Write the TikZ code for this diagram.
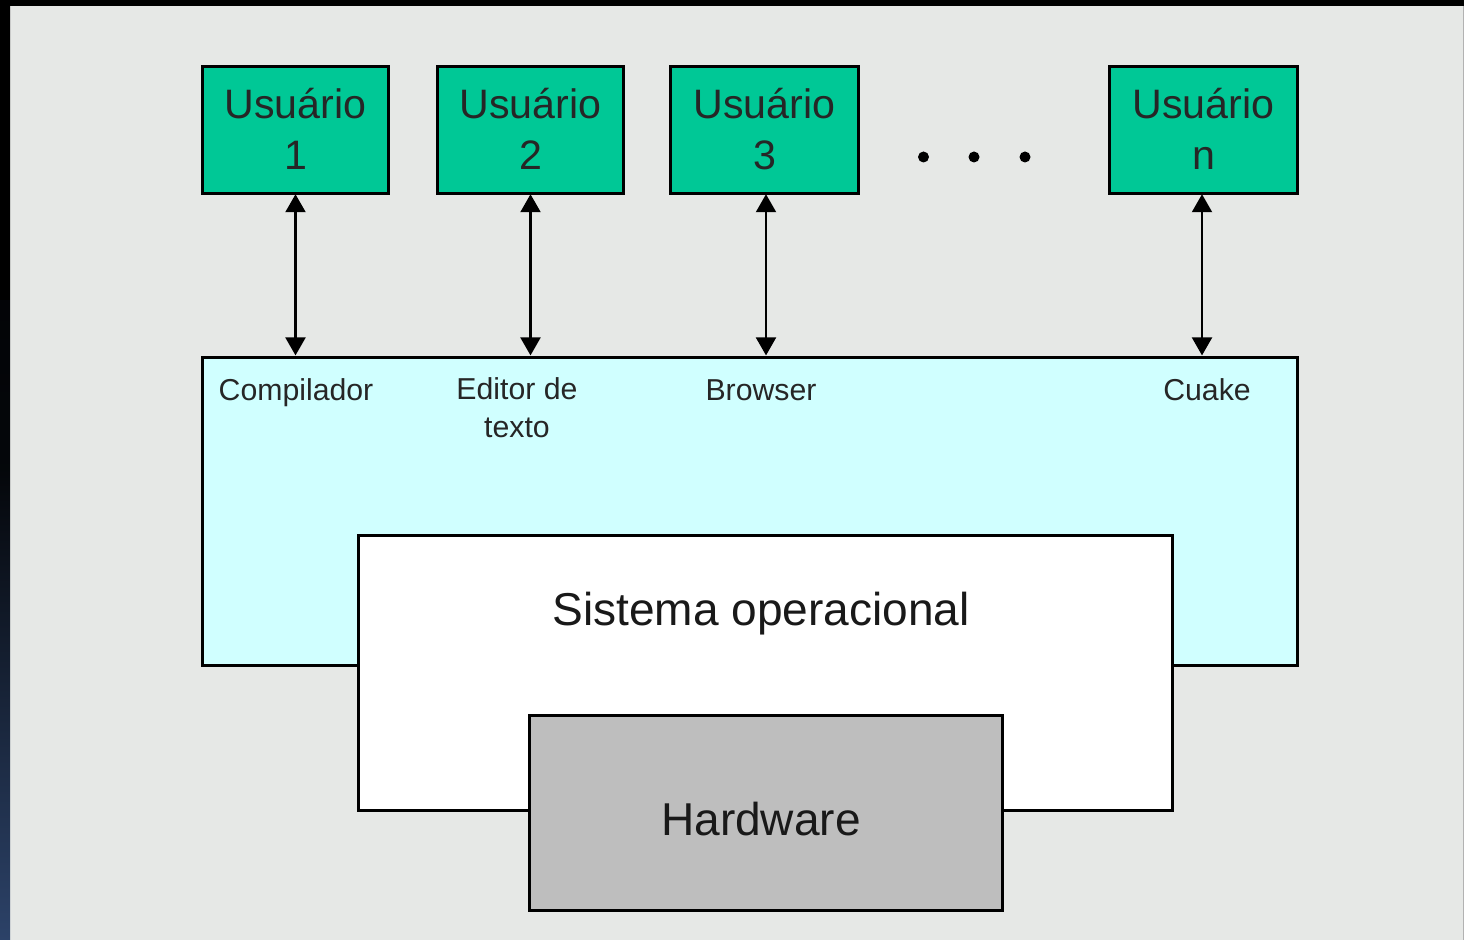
\documentclass[tikz,border=0pt]{standalone}
\usepackage{fontspec}
\setmainfont{Liberation Sans}
\usetikzlibrary{arrows.meta,positioning}
\definecolor{bggray}{RGB}{230,232,230}
\definecolor{ugreen}{RGB}{0,200,150}
\definecolor{appcyan}{RGB}{208,255,255}
\definecolor{hwgray}{RGB}{190,190,190}
\definecolor{navy}{RGB}{44,66,104}
\tikzset{
  box/.style={draw=black, line width=0.03cm, rectangle, inner sep=0pt},
  ubox/.style={box, fill=ugreen, minimum width=1.87cm, minimum height=1.27cm, align=center,
    font=\fontsize{11.7}{14.6}\selectfont, text=black!85},
  applabel/.style={anchor=base, align=center, inner sep=0pt, font=\fontsize{8.6}{10.8}\selectfont, text=black!85},
  bigtext/.style={font=\fontsize{13.1}{16}\selectfont, text=black!90, inner sep=0pt},
  arr/.style={line width=0.022cm, {Triangle[length=0.18cm,width=0.2cm]}-{Triangle[length=0.18cm,width=0.2cm]}, shorten <=0.01cm, shorten >=0.01cm},
  dot/.style={circle, fill=black, minimum size=0.11cm, inner sep=0pt}
}
\begin{document}
\begin{tikzpicture}[x=0.01cm, y=-0.01cm]
\useasboundingbox (0,0) rectangle (1464,940);
% background
\fill[bggray] (0,0) rectangle (1464,940);
\fill[black] (0,0) rectangle (1464,6);
\shade[top color=black, bottom color=navy, middle color=black!90!navy] (0,0) rectangle (10,940);
\fill[black] (0,0) rectangle (10,300);
\draw[gray!60, line width=0.01cm] (1463.5,6) -- (1463.5,940);
% users
\node[ubox, minimum width=1.86cm] (u1) at (295.5,129.7) {\raisebox{0.02cm}{Usuário}\\\raisebox{0.02cm}{1}};
\node[ubox, minimum width=1.86cm] (u2) at (530.5,129.7) {\raisebox{0.02cm}{Usuário}\\\raisebox{0.02cm}{2}};
\node[ubox, minimum width=1.88cm] (u3) at (764.5,129.7) {\raisebox{0.02cm}{Usuário}\\\raisebox{0.02cm}{3}};
\node[ubox, minimum width=1.88cm] (un) at (1203.5,129.7) {\raisebox{0.02cm}{Usuário}\\\raisebox{0.02cm}{n}};
\node[dot] (d1) at (923.5,157) {};
\node[dot] (d2) at (974,157) {};
\node[dot] (d3) at (1025,157) {};
% applications
\node[box, fill=appcyan, minimum width=10.94cm, minimum height=3.07cm] (app) at (750,511.5) {};
\node[applabel] (compilador) at (296,400) {Compilador};
\node[applabel] (editor) at (517,437) {Editor de\\texto};
\node[applabel] (browser) at (761,400) {Browser};
\node[applabel] (cuake) at (1207,400) {Cuake};
% operating system
\node[box, fill=white, minimum width=8.13cm, minimum height=2.75cm] (so) at (765.5,673) {};
\node[bigtext, anchor=base] (sotext) at (761,625) {Sistema operacional};
% hardware
\node[box, fill=hwgray, minimum width=4.72cm, minimum height=1.94cm] (hw) at (766,813) {};
\node[bigtext, anchor=base] (hwtext) at (761,835) {Hardware};
% arrows
\draw[arr] ([yshift=0.015cm]u1.south) -- (u1.south |- app.north);
\draw[arr] ([yshift=0.015cm]u2.south) -- (u2.south |- app.north);
\draw[arr] ([xshift=0.015cm,yshift=0.015cm]u3.south) -- ([xshift=0.015cm]u3.south |- app.north);
\draw[arr] ([xshift=-0.015cm,yshift=0.015cm]un.south) -- ([xshift=-0.015cm]un.south |- app.north);
\end{tikzpicture}
\end{document}
